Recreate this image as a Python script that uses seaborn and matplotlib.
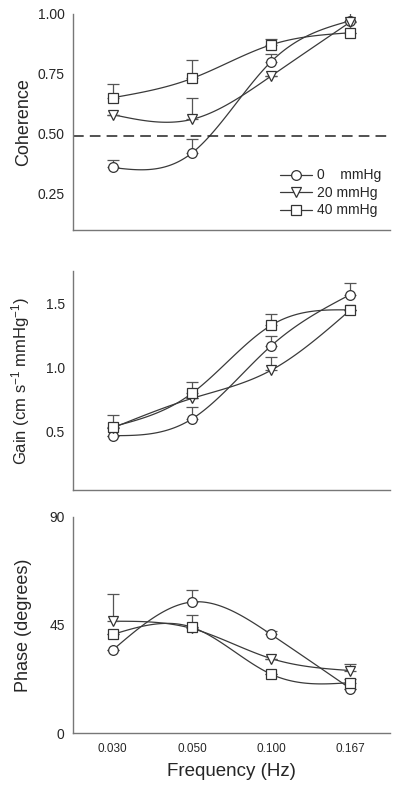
import numpy as np
import pandas as pd
import matplotlib
matplotlib.use("Agg")
import matplotlib.pyplot as plt
from matplotlib.lines import Line2D
import seaborn as sns

# ---------------------------------------------------------------- data
freqs = ["0.030", "0.050", "0.100", "0.167"]
groups = ["0    mmHg", "20 mmHg", "40 mmHg"]
markers = ["o", "v", "s"]

coh_0 = [0.36, 0.42, 0.80, 0.97]
coh_20 = [0.58, 0.56, 0.74, 0.965]
coh_40 = [0.65, 0.73, 0.87, 0.92]
coh_err_0 = [0.03, 0.06, 0.03, 0.035]
coh_err_20 = [0.0, 0.09, 0.0, 0.0]
coh_err_40 = [0.055, 0.075, 0.025, 0.0]

gain_0 = [0.47, 0.60, 1.17, 1.57]
gain_20 = [0.53, 0.76, 0.98, 1.45]
gain_40 = [0.54, 0.80, 1.33, 1.45]
gain_err_0 = [0.0, 0.09, 0.08, 0.09]
gain_err_20 = [0.0, 0.0, 0.10, 0.0]
gain_err_40 = [0.09, 0.09, 0.09, 0.0]

phase_0 = [34.5, 54.5, 41.0, 18.5]
phase_20 = [46.5, 43.5, 31.0, 26.0]
phase_40 = [41.0, 44.0, 24.5, 21.0]
phase_err_0 = [0.0, 5.0, 1.5, 0.0]
phase_err_20 = [11.5, 5.5, 0.0, 2.8]
phase_err_40 = [0.0, 0.0, 0.0, 1.5]

coh_cutoff = 0.49


def natural_spline(x, y, n=120):
    """Natural cubic spline through the points, for drawing the curve."""
    x = np.asarray(x, float)
    y = np.asarray(y, float)
    k = len(x)
    h = np.diff(x)
    A = np.zeros((k, k))
    b = np.zeros(k)
    A[0, 0] = A[-1, -1] = 1
    for i in range(1, k - 1):
        A[i, i - 1] = h[i - 1]
        A[i, i] = 2 * (h[i - 1] + h[i])
        A[i, i + 1] = h[i]
        b[i] = 6 * ((y[i + 1] - y[i]) / h[i] - (y[i] - y[i - 1]) / h[i - 1])
    M = np.linalg.solve(A, b)
    xs = np.linspace(x[0], x[-1], n)
    idx = np.clip(np.searchsorted(x, xs) - 1, 0, k - 2)
    x0, x1 = x[idx], x[idx + 1]
    hh = x1 - x0
    t0, t1 = x1 - xs, xs - x0
    ys = (M[idx] * t0 ** 3 + M[idx + 1] * t1 ** 3) / (6 * hh) \
        + (y[idx] / hh - M[idx] * hh / 6) * t0 \
        + (y[idx + 1] / hh - M[idx + 1] * hh / 6) * t1
    return xs, ys


def draw_panel(ax, series, errs):
    pos = np.arange(len(freqs))
    for vals, err, mk in zip(series, errs, markers):
        xs, ys = natural_spline(pos, vals)
        sns.lineplot(x=xs, y=ys, ax=ax, color="#3a3a3a", lw=0.9, sort=False)
        ax.errorbar(pos, vals, yerr=[np.zeros(len(err)), err], fmt=mk,
                    ms=7, mfc="white", mec="#333333", mew=0.9,
                    ecolor="#555555", elinewidth=0.9, capsize=4.5, capthick=0.9,
                    zorder=3)
    ax.set_xlim(-0.5, 3.5)
    ax.set_xticks(pos)
    for s in ["top", "right"]:
        ax.spines[s].set_visible(False)
    for s in ["left", "bottom"]:
        ax.spines[s].set_color("#777777")
        ax.spines[s].set_linewidth(1.0)
    ax.tick_params(axis="y", length=3, width=0.8, color="#777777", labelsize=10, pad=3)
    ax.yaxis.set_label_coords(-0.13, 0.5)


##############################################################################
sns.set_style("white")
plt.rcParams["font.family"] = ["Liberation Sans", "DejaVu Sans"]
plt.rcParams["mathtext.default"] = "regular"

fig = plt.figure(figsize=(4.0, 7.96), dpi=100)
ax1 = fig.add_axes([0.1825, 0.711, 0.7925, 0.272])
ax2 = fig.add_axes([0.1825, 0.385, 0.7925, 0.274])
ax3 = fig.add_axes([0.1825, 0.079, 0.7925, 0.272])

# coherence
draw_panel(ax1, [coh_0, coh_20, coh_40], [coh_err_0, coh_err_20, coh_err_40])
ax1.axhline(coh_cutoff, color="#222222", lw=1.1, ls=(0, (7, 4)))
ax1.set_ylim(0.1, 1.0)
ax1.set_yticks([0.25, 0.50, 0.75, 1.00])
ax1.set_yticklabels(["0.25", "0.50", "0.75", "1.00"])
ax1.set_ylabel("Coherence", fontsize=13)
ax1.tick_params(axis="x", length=0, labelbottom=False)
handles = [Line2D([], [], color="#3a3a3a", lw=0.9, marker=m, ms=7, mfc="white",
                  mec="#333333", mew=0.9) for m in markers]
ax1.legend(handles, groups, loc="lower right", bbox_to_anchor=(1.0, 0.02),
           frameon=False, fontsize=10, handlelength=2.3, handletextpad=0.4,
           labelspacing=0.25, borderaxespad=0.2)

# gain
draw_panel(ax2, [gain_0, gain_20, gain_40], [gain_err_0, gain_err_20, gain_err_40])
ax2.set_ylim(0.05, 1.75)
ax2.set_yticks([0.5, 1.0, 1.5])
ax2.set_ylabel("Gain (cm s$^{-1}$ mmHg$^{-1}$)", fontsize=12)
ax2.tick_params(axis="x", length=0, labelbottom=False)

# phase
draw_panel(ax3, [phase_0, phase_20, phase_40], [phase_err_0, phase_err_20, phase_err_40])
ax3.set_ylim(0, 90)
ax3.set_yticks([0, 45, 90])
ax3.set_ylabel("Phase (degrees)", fontsize=13)
ax3.set_xticklabels(freqs)
ax3.tick_params(axis="x", length=2, width=0.8, color="#777777", labelsize=8.5, pad=5)
ax3.set_xlabel("Frequency (Hz)", fontsize=13.5, labelpad=6)

fig.savefig("out.png", dpi=100)
